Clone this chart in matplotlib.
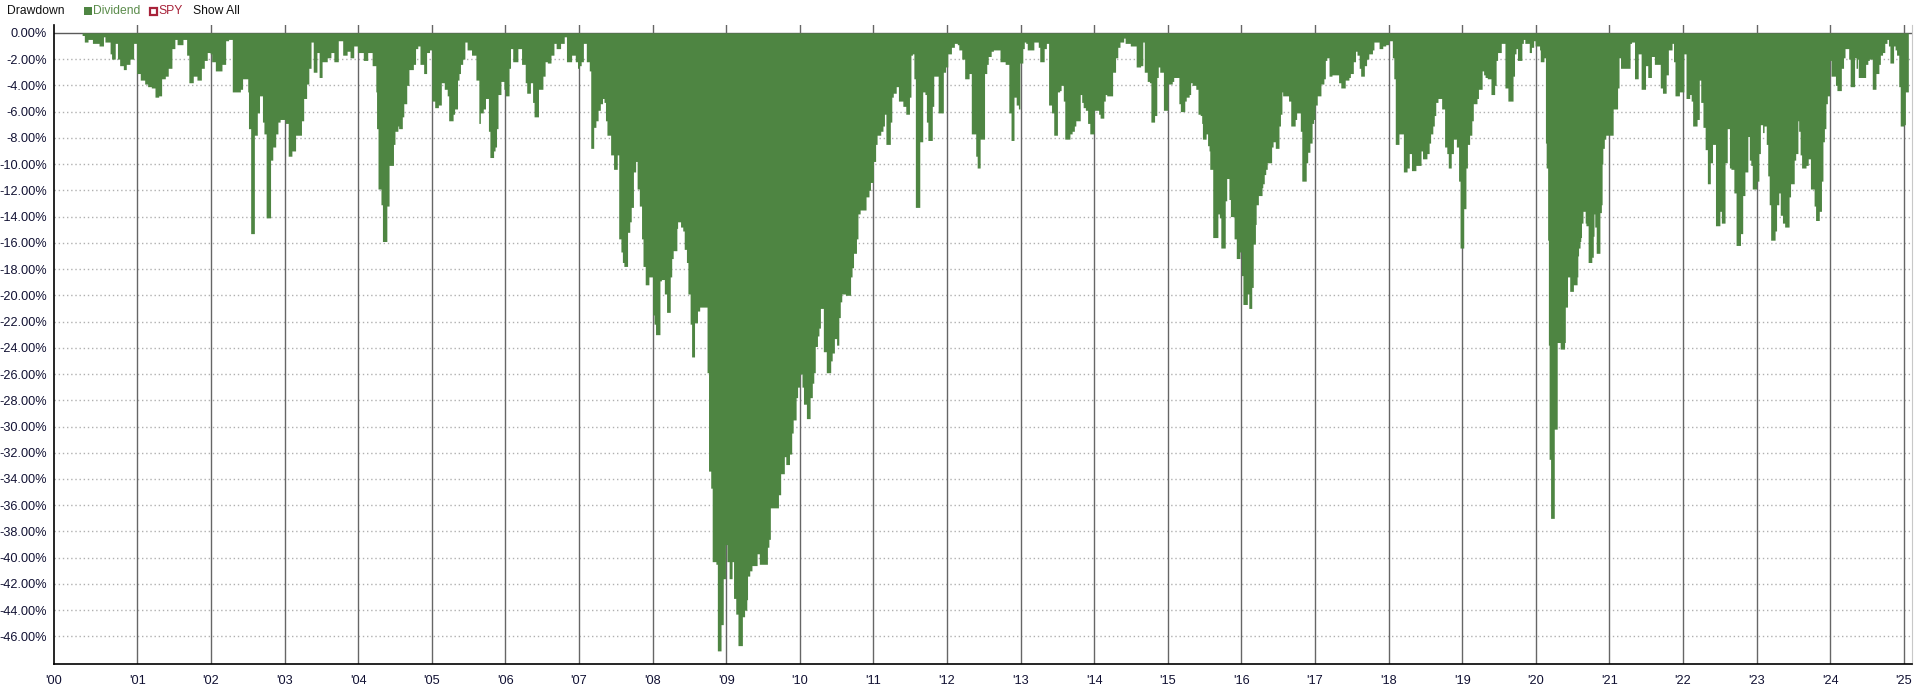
import numpy as np
import matplotlib.pyplot as plt
from matplotlib.patches import Rectangle

plt.rcParams['font.family'] = ['Liberation Sans', 'DejaVu Sans']

# Start of each step (decimal year) and drawdown in %
dates = [
    2000.25, 2000.28, 2000.33, 2000.39, 2000.48, 2000.54, 2000.56, 2000.63, 2000.65, 2000.70,
    2000.73, 2000.76, 2000.81, 2000.85, 2000.90, 2000.95, 2000.99, 2001.04, 2001.10, 2001.14,
    2001.19, 2001.24, 2001.29, 2001.33, 2001.38, 2001.42, 2001.47, 2001.51, 2001.54, 2001.62,
    2001.67, 2001.70, 2001.76, 2001.81, 2001.87, 2001.91, 2001.95, 2001.99, 2002.01, 2002.06,
    2002.15, 2002.20, 2002.24, 2002.29, 2002.40, 2002.43, 2002.50, 2002.51, 2002.54, 2002.59,
    2002.63, 2002.66, 2002.70, 2002.72, 2002.75, 2002.81, 2002.84, 2002.88, 2002.91, 2002.94,
    2003.01, 2003.05, 2003.10, 2003.15, 2003.23, 2003.26, 2003.30, 2003.33, 2003.36, 2003.39,
    2003.44, 2003.47, 2003.51, 2003.58, 2003.63, 2003.67, 2003.73, 2003.79, 2003.85, 2003.89,
    2003.94, 2003.99, 2004.07, 2004.13,
    2004.19, 2004.24, 2004.25, 2004.27, 2004.31, 2004.33, 2004.39, 2004.42, 2004.48, 2004.50,
    2004.54, 2004.55, 2004.60, 2004.62, 2004.66, 2004.69, 2004.75, 2004.78, 2004.81, 2004.84,
    2004.89, 2004.93, 2004.97, 2005.00, 2005.04, 2005.09, 2005.13, 2005.17, 2005.21, 2005.23,
    2005.29, 2005.31, 2005.35, 2005.37, 2005.39, 2005.42, 2005.45, 2005.48, 2005.54, 2005.60,
    2005.64, 2005.66, 2005.70, 2005.73, 2005.77, 2005.79, 2005.84, 2005.86, 2005.88, 2005.90,
    2005.94, 2005.98, 2006.00, 2006.05, 2006.07, 2006.10, 2006.17, 2006.22, 2006.27, 2006.29,
    2006.34, 2006.37, 2006.39, 2006.45, 2006.51, 2006.54, 2006.57, 2006.62, 2006.66, 2006.69,
    2006.75, 2006.80, 2006.83, 2006.90, 2006.95, 2006.98, 2007.00, 2007.03, 2007.06, 2007.10,
    2007.14, 2007.16, 2007.20, 2007.23, 2007.26, 2007.29, 2007.32, 2007.34, 2007.36, 2007.38,
    2007.43, 2007.47, 2007.52, 2007.54, 2007.57, 2007.59, 2007.61, 2007.66, 2007.69, 2007.71,
    2007.74, 2007.77, 2007.79, 2007.82, 2007.85, 2007.87, 2007.90, 2007.95, 2008.00, 2008.02,
    2008.04, 2008.10, 2008.12, 2008.16, 2008.19, 2008.24, 2008.26, 2008.28, 2008.33, 2008.34,
    2008.38, 2008.41, 2008.43, 2008.46, 2008.48, 2008.51, 2008.53, 2008.57, 2008.61, 2008.64,
    2008.74, 2008.76, 2008.79, 2008.81, 2008.86, 2008.88, 2008.93, 2008.96, 2008.99, 2009.01,
    2009.04, 2009.08, 2009.10, 2009.13, 2009.16, 2009.22, 2009.25, 2009.28, 2009.29, 2009.32,
    2009.35, 2009.42, 2009.45, 2009.56, 2009.58, 2009.60, 2009.71, 2009.74, 2009.79, 2009.81,
    2009.86, 2009.89, 2009.91, 2009.95, 2009.97, 2010.00, 2010.03, 2010.05, 2010.09, 2010.14,
    2010.17, 2010.19, 2010.21, 2010.24, 2010.26, 2010.28, 2010.32, 2010.36, 2010.42, 2010.44,
    2010.47, 2010.50, 2010.53, 2010.55, 2010.57, 2010.62, 2010.69, 2010.71, 2010.73, 2010.77,
    2010.79, 2010.82, 2010.90, 2010.94, 2010.96, 2011.00, 2011.03, 2011.05,
    2011.10, 2011.13, 2011.15, 2011.17, 2011.23, 2011.25, 2011.27, 2011.31, 2011.34, 2011.40,
    2011.44, 2011.49, 2011.51, 2011.53, 2011.55, 2011.57, 2011.63, 2011.67, 2011.70, 2011.72,
    2011.74, 2011.80, 2011.82, 2011.88, 2011.95, 2011.98, 2012.01, 2012.06, 2012.10, 2012.14,
    2012.16, 2012.20, 2012.24, 2012.30, 2012.33, 2012.39, 2012.41, 2012.45, 2012.51, 2012.54,
    2012.56, 2012.60, 2012.63, 2012.72, 2012.79, 2012.84, 2012.87, 2012.91, 2012.94, 2012.97,
    2012.99, 2013.03, 2013.05, 2013.07, 2013.09, 2013.18, 2013.24, 2013.26, 2013.32, 2013.35,
    2013.38, 2013.42, 2013.45, 2013.50, 2013.53, 2013.55, 2013.58, 2013.60, 2013.67, 2013.70,
    2013.73, 2013.75, 2013.81, 2013.83, 2013.85, 2013.88, 2013.91, 2013.94, 2014.00, 2014.06,
    2014.08, 2014.13, 2014.15, 2014.17, 2014.25, 2014.29, 2014.32, 2014.35, 2014.40, 2014.42,
    2014.49, 2014.57, 2014.63, 2014.66, 2014.68, 2014.72, 2014.75, 2014.77, 2014.82, 2014.85,
    2014.87, 2014.89, 2014.94, 2015.00, 2015.06, 2015.08, 2015.15, 2015.17, 2015.23, 2015.25,
    2015.29, 2015.31, 2015.33, 2015.38, 2015.41,
    2015.44, 2015.46, 2015.47, 2015.52, 2015.54, 2015.56, 2015.57, 2015.61, 2015.68, 2015.70,
    2015.72, 2015.78, 2015.80, 2015.83, 2015.85, 2015.90, 2015.93, 2015.98, 2016.00, 2016.02,
    2016.08, 2016.10, 2016.14, 2016.16, 2016.19, 2016.20, 2016.23, 2016.28, 2016.29, 2016.31,
    2016.33, 2016.35, 2016.41, 2016.43, 2016.46, 2016.51, 2016.53, 2016.55, 2016.56, 2016.64,
    2016.67, 2016.73, 2016.75, 2016.80, 2016.82, 2016.88, 2016.90, 2016.93, 2016.96, 2016.98,
    2017.00, 2017.03, 2017.08, 2017.12, 2017.14, 2017.16, 2017.19, 2017.23, 2017.32, 2017.35,
    2017.41, 2017.46, 2017.48, 2017.52, 2017.55, 2017.57, 2017.60, 2017.62, 2017.67, 2017.70,
    2017.73, 2017.78, 2017.80, 2017.87, 2017.92, 2017.96, 2018.00, 2018.05, 2018.07, 2018.09,
    2018.14, 2018.20, 2018.25, 2018.28, 2018.31, 2018.37, 2018.44, 2018.46, 2018.52, 2018.55,
    2018.57, 2018.60, 2018.62, 2018.64, 2018.67, 2018.72, 2018.76, 2018.79, 2018.81, 2018.85,
    2018.88, 2018.92, 2018.95, 2018.97, 2019.02, 2019.05, 2019.07, 2019.10, 2019.13, 2019.15,
    2019.20, 2019.22, 2019.27, 2019.29, 2019.31, 2019.34, 2019.39, 2019.44, 2019.46, 2019.48,
    2019.53, 2019.58, 2019.62, 2019.69, 2019.71, 2019.73, 2019.75, 2019.81, 2019.83, 2019.85,
    2019.91,
    2019.94, 2019.97, 2019.99, 2020.05, 2020.06, 2020.11, 2020.13, 2020.14, 2020.16, 2020.17,
    2020.18, 2020.20, 2020.25, 2020.29, 2020.33, 2020.39, 2020.40, 2020.43, 2020.46, 2020.51,
    2020.56, 2020.57, 2020.58, 2020.60, 2020.61, 2020.62, 2020.64, 2020.67, 2020.68, 2020.71,
    2020.76, 2020.78, 2020.79, 2020.80, 2020.82, 2020.87, 2020.89, 2020.90, 2020.91, 2020.93,
    2020.95, 2021.05, 2021.11, 2021.13, 2021.15, 2021.28,
    2021.30, 2021.34, 2021.39, 2021.43, 2021.49, 2021.52, 2021.57, 2021.61, 2021.69, 2021.72,
    2021.77, 2021.80, 2021.85, 2021.87, 2021.89, 2021.95, 2022.01, 2022.04, 2022.09, 2022.11,
    2022.13, 2022.19, 2022.22, 2022.24, 2022.27, 2022.30, 2022.33, 2022.37, 2022.40, 2022.44,
    2022.50, 2022.52, 2022.57, 2022.60, 2022.63, 2022.65, 2022.69, 2022.72, 2022.78, 2022.81,
    2022.84, 2022.88, 2022.90, 2022.92, 2022.94, 2023.00, 2023.03, 2023.05, 2023.08, 2023.10,
    2023.13, 2023.15, 2023.17, 2023.19, 2023.25, 2023.27, 2023.30, 2023.32, 2023.35, 2023.38,
    2023.44, 2023.46, 2023.51, 2023.53, 2023.56, 2023.57, 2023.59, 2023.61, 2023.67, 2023.70,
    2023.73, 2023.78, 2023.80, 2023.85, 2023.88, 2023.90, 2023.92, 2023.94, 2023.96, 2023.99,
    2024.01, 2024.07, 2024.09, 2024.15, 2024.18, 2024.20, 2024.25, 2024.27, 2024.33, 2024.35,
    2024.37, 2024.38, 2024.48, 2024.51, 2024.53, 2024.57, 2024.62, 2024.66, 2024.68, 2024.71,
    2024.74, 2024.77, 2024.79, 2024.81, 2024.86, 2024.88, 2024.90, 2024.93, 2024.95, 2025.00,
    2025.02,
]
drawdown = [
    -0.2, -0.7, -0.5, -0.8, -1.0, -0.3, -0.7, -1.6, -2.0, -0.8,
    -2.0, -2.5, -2.8, -2.4, -2.0, -0.8, -3.1, -3.6, -3.9, -4.1,
    -4.2, -4.9, -4.8, -3.5, -3.3, -2.7, -1.2, -0.5, -0.9, -0.5,
    -1.7, -3.8, -3.3, -3.6, -2.7, -2.1, -1.5, -1.6, -2.2, -2.9,
    -2.4, -0.6, -0.5, -4.5, -4.3, -3.5, -4.5, -7.3, -15.3, -7.8,
    -6.1, -4.8, -6.8, -7.7, -14.1, -9.7, -8.7, -7.7, -6.8, -6.6,
    -6.9, -9.4, -9.0, -7.8, -6.7, -5.0, -3.9, -2.7, -0.7, -3.0,
    -1.5, -3.4, -2.2, -1.9, -1.5, -2.2, -0.6, -1.7, -1.4, -1.9,
    -1.0, -1.5, -2.1, -1.5,
    -2.5, -4.5, -7.3, -11.9, -13.1, -15.9, -13.2, -10.1, -8.5, -7.5,
    -7.1, -7.3, -6.4, -5.4, -4.0, -2.8, -2.4, -1.2, -1.0, -2.4,
    -3.1, -1.5, -1.3, -5.2, -5.7, -5.5, -3.8, -4.3, -4.8, -6.7,
    -6.2, -5.8, -3.6, -3.1, -2.4, -2.0, -0.7, -1.3, -1.7, -3.6,
    -6.9, -6.1, -5.8, -5.0, -7.5, -9.5, -9.0, -8.7, -7.3, -4.7,
    -3.7, -4.3, -4.8, -2.7, -1.2, -2.2, -1.2, -2.4, -3.8, -4.6,
    -3.8, -5.3, -6.4, -4.3, -3.3, -2.2, -2.3, -1.7, -0.8, -1.2,
    -0.8, -0.3, -2.2, -1.7, -2.2, -2.7, -2.5, -2.2, -0.8, -2.2,
    -2.9, -8.8, -7.2, -6.7, -5.9, -5.4, -5.0, -5.3, -6.7, -7.8,
    -9.3, -10.4, -9.3, -15.7, -16.7, -17.5, -17.8, -15.2, -14.4, -13.3,
    -10.6, -9.8, -11.9, -13.2, -15.7, -17.8, -19.2, -18.6, -21.5, -22.2,
    -23.0, -18.9, -18.8, -19.9, -21.3, -18.6, -17.2, -16.6, -14.9, -14.4,
    -14.8, -15.1, -16.5, -17.5, -19.9, -22.2, -24.7, -22.1, -21.2, -20.9,
    -25.9, -33.4, -34.7, -40.3, -40.5, -47.1, -45.1, -41.6, -39.0, -40.3,
    -41.6, -40.3, -43.1, -44.3, -46.7, -44.5, -44.0, -43.2, -41.4, -41.0,
    -40.6, -39.7, -40.5, -39.2, -38.6, -36.2, -35.2, -33.6, -32.3, -32.9,
    -32.1, -30.5, -29.5, -27.8, -27.0, -26.0, -27.0, -28.3, -29.4, -27.8,
    -26.7, -25.9, -23.9, -23.1, -22.5, -21.0, -24.3, -25.9, -25.0, -24.4,
    -23.3, -23.8, -21.7, -20.5, -19.9, -20.0, -18.6, -17.9, -16.8, -15.7,
    -13.8, -13.5, -12.5, -12.0, -11.4, -9.8, -8.5, -7.8,
    -7.5, -7.1, -6.2, -8.5, -6.8, -4.9, -4.6, -4.1, -5.2, -5.6,
    -6.2, -4.9, -1.7, -1.6, -3.5, -13.3, -8.3, -4.5, -4.7, -6.8,
    -8.2, -5.6, -3.3, -6.1, -3.0, -2.6, -1.6, -1.1, -0.8, -0.9,
    -1.3, -2.0, -3.5, -3.1, -7.7, -9.4, -10.3, -8.1, -3.1, -2.4,
    -1.8, -1.4, -1.3, -2.2, -2.4, -6.1, -8.2, -4.9, -5.5, -5.8,
    -2.3, -1.2, -0.7, -0.8, -1.3, -0.7, -1.1, -2.2, -1.2, -0.8,
    -5.5, -6.1, -7.8, -4.5, -4.4, -4.0, -5.2, -8.1, -7.7, -7.5,
    -7.1, -6.7, -4.7, -5.3, -5.7, -5.9, -6.9, -7.7, -5.9, -6.2,
    -6.5, -5.2, -4.7, -4.8, -3.0, -1.9, -1.1, -0.7, -0.4, -0.8,
    -1.0, -2.6, -2.5, -0.7, -3.0, -3.7, -3.8, -6.8, -6.3, -3.4,
    -2.6, -3.0, -5.9, -3.9, -3.7, -3.4, -5.4, -6.0, -5.2, -4.9,
    -4.7, -3.8, -4.0, -4.3, -6.2,
    -6.3, -6.9, -8.1, -7.7, -8.6, -9.0, -10.4, -15.6, -13.8, -14.1,
    -16.4, -12.8, -11.1, -12.7, -14.0, -15.7, -17.2, -16.7, -18.5, -20.7,
    -19.9, -21.0, -19.4, -16.1, -14.6, -13.1, -12.4, -11.8, -11.5, -10.8,
    -10.4, -9.9, -8.7, -8.3, -8.8, -7.1, -6.2, -4.5, -4.8, -5.2,
    -7.1, -6.6, -6.1, -7.5, -11.3, -9.9, -9.1, -8.4, -6.9, -6.6,
    -5.5, -4.8, -3.9, -3.5, -2.1, -1.9, -3.3, -3.2, -3.8, -4.2,
    -3.6, -3.4, -3.1, -2.2, -1.4, -1.7, -2.7, -3.3, -2.5, -2.0,
    -1.6, -1.3, -0.7, -1.2, -1.0, -0.9, -0.6, -1.9, -3.5, -8.5,
    -7.7, -10.6, -10.3, -9.2, -10.5, -10.1, -9.0, -9.6, -9.2, -8.4,
    -7.7, -7.1, -6.3, -5.3, -5.0, -5.8, -8.7, -9.2, -10.3, -9.2,
    -8.1, -8.7, -11.3, -16.4, -13.4, -10.3, -8.5, -7.8, -6.7, -5.4,
    -5.0, -4.3, -2.9, -3.2, -3.4, -3.5, -4.7, -4.0, -2.1, -1.5,
    -0.8, -4.2, -5.2, -3.3, -1.6, -1.2, -2.1, -0.8, -0.5, -0.8,
    -1.5,
    -1.1, -0.6, -1.0, -1.3, -2.2, -1.9, -8.4, -10.3, -15.8, -23.8,
    -32.5, -37.0, -30.2, -23.6, -24.1, -23.6, -20.9, -18.6, -19.7, -19.2,
    -18.6, -17.0, -16.4, -15.9, -15.6, -14.5, -13.6, -14.5, -14.7, -17.5,
    -17.1, -15.5, -13.8, -14.8, -16.8, -13.7, -13.1, -10.0, -8.8, -8.1,
    -7.8, -5.8, -4.2, -1.9, -2.7, -0.8,
    -0.7, -3.5, -1.6, -4.3, -2.5, -3.4, -1.8, -2.4, -4.2, -4.6,
    -3.2, -1.3, -0.8, -2.2, -4.8, -4.5, -1.6, -5.0, -4.7, -5.2,
    -7.1, -6.6, -3.6, -5.3, -7.2, -8.9, -11.5, -9.9, -8.5, -14.7,
    -13.6, -14.5, -9.9, -7.3, -10.3, -10.4, -12.2, -16.2, -15.3, -12.4,
    -10.6, -7.9, -9.7, -10.1, -11.9, -11.3, -9.2, -7.0, -7.6, -7.1,
    -8.5, -10.9, -13.1, -15.8, -15.1, -13.1, -12.2, -13.9, -14.5, -14.8,
    -12.5, -11.5, -9.7, -9.2, -6.7, -7.5, -9.3, -10.3, -10.1, -9.6,
    -11.9, -13.2, -14.3, -13.6, -11.3, -8.3, -7.3, -5.4, -4.8, -2.1,
    -3.3, -4.0, -4.4, -2.7, -1.9, -1.2, -2.0, -4.1, -1.9, -2.7,
    -2.0, -3.4, -2.4, -2.1, -2.0, -4.3, -3.1, -2.4, -1.7, -1.5,
    -0.8, -0.5, -1.0, -2.3, -1.0, -1.3, -1.7, -4.1, -7.1, -7.0,
    -4.5,
]
end_date = 2025.06

year_ticks = list(range(2001, 2026))
year_labels = ["'%02d" % (y % 100) for y in year_ticks]
y_ticks = list(range(0, -47, -2))

x_min, x_max = 1999.868, 2025.11
y_min, y_max = -48.1, 0.6

green = '#4e8542'
red = '#a8233a'
fs = 9.2
hfs = 8.7

fig = plt.figure(figsize=(19.14, 7.0), dpi=100)
ax = fig.add_axes([54 / 1914, 1 - 664 / 700, (1912 - 54) / 1914, (664 - 25) / 700])

# drawdown bars as a stepped area
xs = np.append(dates, end_date)
ys = np.append(drawdown, drawdown[-1])
ax.fill_between(xs, ys, 0, step='post', color=green, linewidth=0, zorder=3)

# grid: dotted horizontals, solid year lines, solid zero line
for v in y_ticks[1:]:
    ax.axhline(v, color='#b0b0b0', lw=1, linestyle=(0, (1, 2)), zorder=1)
ax.axhline(0, color='#5a5a5a', lw=1, zorder=2)
for yr in year_ticks:
    ax.axvline(yr, color='#666666', lw=1, zorder=2)

ax.set_xlim(x_min, x_max)
ax.set_ylim(y_min, y_max)
ax.set_yticks(y_ticks)
ax.set_yticklabels(['%.2f%%' % v for v in y_ticks])
ax.set_xticks([x_min] + year_ticks)
ax.set_xticklabels(["'00"] + year_labels)
ax.tick_params(axis='y', length=0, pad=5, labelsize=fs, colors='#111133')
ax.tick_params(axis='x', length=0, pad=8, labelsize=fs, colors='#111133')

for side in ['left', 'bottom']:
    ax.spines[side].set_color('black')
    ax.spines[side].set_linewidth(1.2)
ax.spines['top'].set_visible(False)
ax.spines['right'].set_color('#c8c8c8')

# header with legend
fig.text(7 / 1914, 1 - 11 / 700, 'Drawdown', fontsize=hfs, va='center', color='#111111')
fig.patches.append(Rectangle((84 / 1914, 1 - 15 / 700), 8 / 1914, 8 / 700,
                             transform=fig.transFigure, facecolor=green, edgecolor='none'))
fig.text(92.5 / 1914, 1 - 11 / 700, 'Dividend', fontsize=hfs, va='center', color='#5b8c4b')
fig.patches.append(Rectangle((150 / 1914, 1 - 14.5 / 700), 6.5 / 1914, 6.5 / 700,
                             transform=fig.transFigure, facecolor='white', edgecolor=red, lw=1.6))
fig.text(158 / 1914, 1 - 11 / 700, 'SPY', fontsize=hfs, va='center', color=red)
fig.text(193 / 1914, 1 - 11 / 700, 'Show All', fontsize=hfs, va='center', color='#111111')

fig.savefig('out.png', dpi=100)
